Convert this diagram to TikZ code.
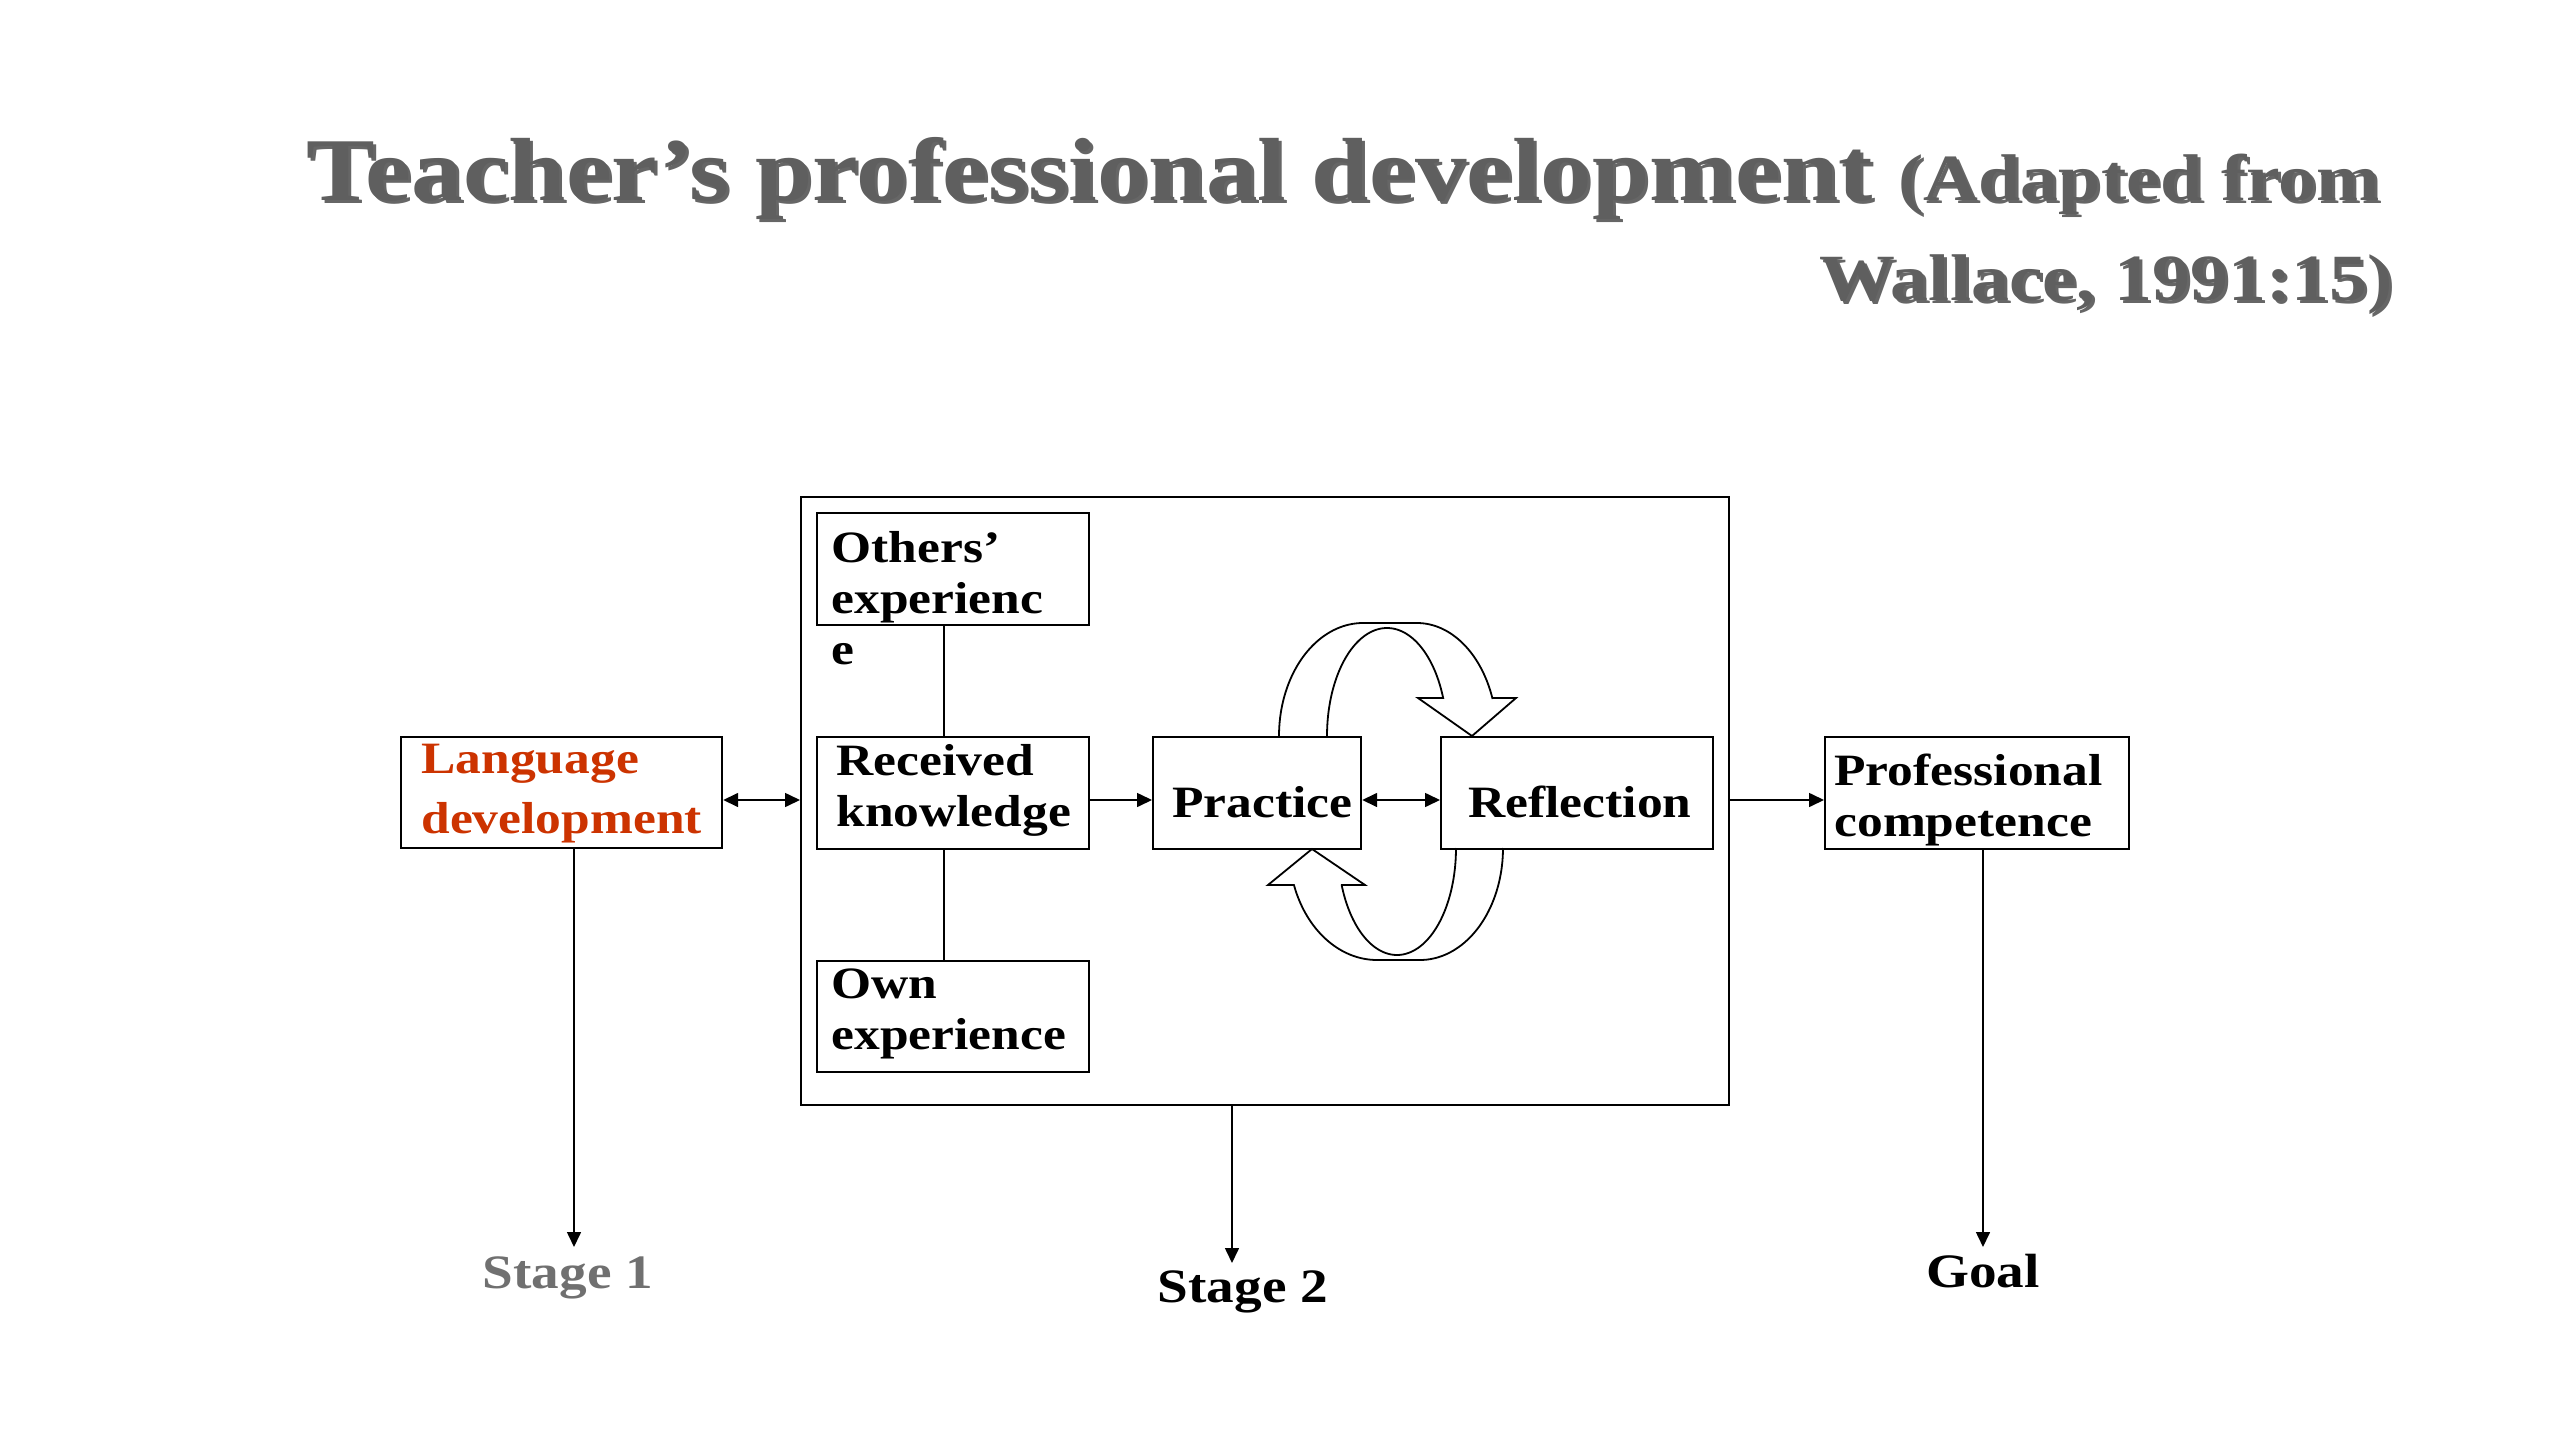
\documentclass[tikz,border=0pt]{standalone}
\usepackage{fontspec}
\setmainfont{Liberation Serif}[FakeStretch=1.15]
\usetikzlibrary{arrows.meta}
\definecolor{titlegray}{HTML}{5F5F5F}
\definecolor{langred}{HTML}{CC3300}
\definecolor{stagegray}{HTML}{707070}
\begin{document}
\begin{tikzpicture}[x=0.5bp,y=-0.5bp,
  box/.style={draw=black, line width=1.1bp, fill=white, inner sep=0pt, anchor=north west},
  boxtxt/.style={anchor=base west, inner sep=0pt, font=\fontsize{22.4bp}{26bp}\selectfont\bfseries},
  stagetxt/.style={anchor=base, inner sep=0pt, font=\fontsize{24bp}{28bp}\selectfont\bfseries},
  bigtitle/.style={inner sep=0pt, font=\fontsize{44.8bp}{50bp}\selectfont\bfseries},
  arr/.style={line width=0.8bp, -{Triangle[length=7.5bp,width=7bp]}},
  dbl/.style={line width=0.8bp, {Triangle[length=7.5bp,width=7bp]}-{Triangle[length=7.5bp,width=7bp]}},
  link/.style={line width=0.8bp},
  curv/.style={line width=0.9bp, line join=miter}
]
\fill[white] (0,0) rectangle (2559,1440);
\useasboundingbox (0,0) rectangle (2559,1440);

% title
\node[bigtitle, anchor=base west, text=black, opacity=0.6] (t1s) at (309,203)
  {Teacher’s professional development {\fontsize{33bp}{40bp}\selectfont(Adapted from}};
\node[bigtitle, anchor=base west, text=titlegray] (t1) at (306,200)
  {Teacher’s professional development {\fontsize{33bp}{40bp}\selectfont(Adapted from}};
\node[inner sep=0pt, anchor=base east, font=\fontsize{33bp}{40bp}\selectfont\bfseries, text=black, opacity=0.6] (t2s) at (2396,303) {Wallace, 1991:15)};
\node[inner sep=0pt, anchor=base east, font=\fontsize{33bp}{40bp}\selectfont\bfseries, text=titlegray] (t2) at (2393,300) {Wallace, 1991:15)};

% boxes
\node[box, line width=1.2bp, minimum width=464bp, minimum height=304bp] (outer) at (800,496) {};
\node[box, minimum width=160.5bp, minimum height=55.5bp] (lang) at (400,736) {};
\node[box, minimum width=136bp, minimum height=56bp] (others) at (816,512) {};
\node[box, minimum width=136bp, minimum height=56bp] (recv) at (816,736) {};
\node[box, minimum width=136bp, minimum height=55.5bp] (own) at (816,960) {};
\node[box, minimum width=104bp, minimum height=56bp] (prac) at (1152,736) {};
\node[box, minimum width=136bp, minimum height=56bp] (refl) at (1440,736) {};
\node[box, minimum width=152bp, minimum height=56bp] (prof) at (1824,736) {};

% box texts
\node[boxtxt, text=langred] (lang1) at (421,773) {Language};
\node[boxtxt, text=langred] (lang2) at (421,833) {development};
\node[boxtxt] (oth1) at (831,562) {Others’};
\node[boxtxt] (oth2) at (831,613) {experienc};
\node[boxtxt] (oth3) at (831,664) {e};
\node[boxtxt] (rec1) at (836,775) {Received};
\node[boxtxt] (rec2) at (836,826) {knowledge};
\node[boxtxt] (own1) at (831,998) {Own};
\node[boxtxt] (own2) at (831,1049) {experience};
\node[boxtxt] (prac1) at (1172,817) {Practice};
\node[boxtxt] (refl1) at (1468,817) {Reflection};
\node[boxtxt] (prof1) at (1834,785) {Professional};
\node[boxtxt] (prof2) at (1834,836) {competence};

% stage labels
\node[stagetxt, text=stagegray] (s1) at (568,1288) {Stage 1};
\node[stagetxt] (s2) at (1243,1302) {Stage 2};
\node[stagetxt] (goal) at (1983,1287) {Goal};

% helper coordinates
\coordinate (ay) at (0,800);
\coordinate (cx) at (944,0);
\coordinate (a1) at (574,1247);
\coordinate (a2) at (1232,1263);
\coordinate (a3) at (1983,1247);

% connectors
\draw[dbl] (lang.east |- ay) -- (outer.west |- ay);
\draw[arr] (recv.east |- ay) -- (prac.west |- ay);
\draw[dbl] (prac.east |- ay) -- (refl.west |- ay);
\draw[arr] (outer.east |- ay) -- (prof.west |- ay);
\draw[link] (others.south -| cx) -- (recv.north -| cx);
\draw[link] (recv.south -| cx) -- (own.north -| cx);
\draw[arr] (lang.south -| a1) -- (a1);
\draw[arr] (outer.south -| a2) -- (a2);
\draw[arr] (prof.south -| a3) -- (a3);

% circular arrows
\draw[curv] plot[domain=180:90,samples=40] ({1363+84*cos(\x)},{736-113*sin(\x)})
  -- plot[domain=90:19.6,samples=40] ({1417+80*cos(\x)},{736-113*sin(\x)})
  -- (1516,698) -- (1472,736) -- (1418,698) -- (1443,698)
  -- plot[domain=20.6:90,samples=40] ({1387+60*cos(\x)},{736-108*sin(\x)})
  -- plot[domain=90:180,samples=40] ({1387+60*cos(\x)},{736-108*sin(\x)});
\draw[curv] plot[domain=0:-90,samples=40] ({1420+83*cos(\x)},{848-112*sin(\x)})
  -- plot[domain=-90:-160.7,samples=40] ({1377+88*cos(\x)},{848-112*sin(\x)})
  -- (1268,885) -- (1312,849) -- (1365,885) -- (1341,885)
  -- plot[domain=-159.7:-90,samples=40] ({1397+59*cos(\x)},{848-107*sin(\x)})
  -- plot[domain=-90:0,samples=40] ({1397+59*cos(\x)},{848-107*sin(\x)});
\end{tikzpicture}
\end{document}
